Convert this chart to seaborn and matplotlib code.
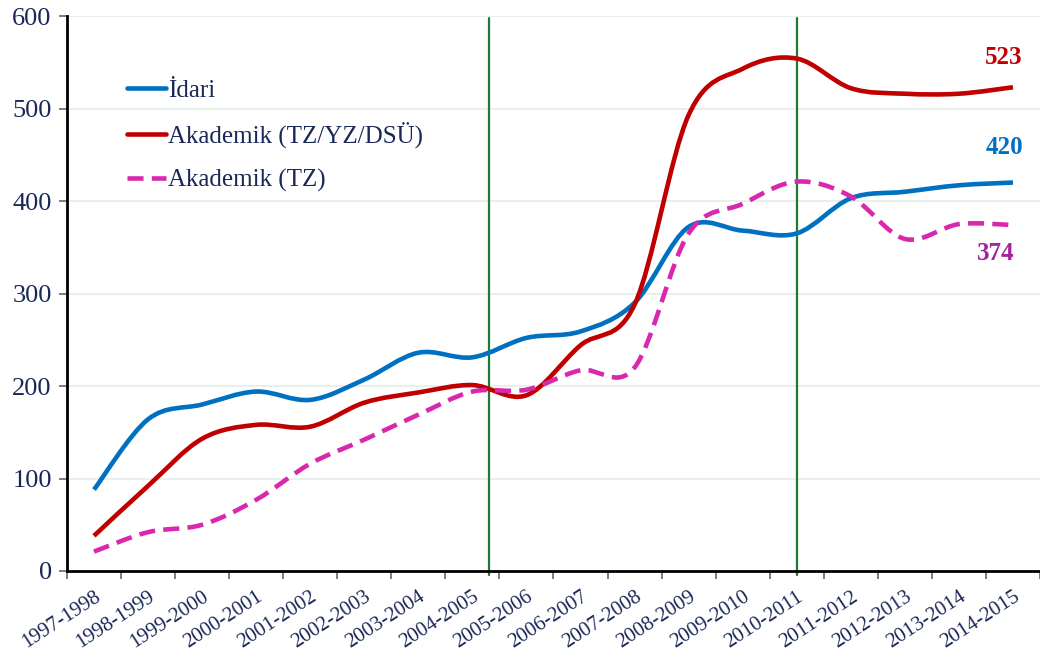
import numpy as np
import seaborn as sns
import matplotlib
matplotlib.use("Agg")
import matplotlib.pyplot as plt
from matplotlib.path import Path
from matplotlib.patches import PathPatch
from matplotlib.lines import Line2D

years = ['1997-1998', '1998-1999', '1999-2000', '2000-2001', '2001-2002', '2002-2003',
         '2003-2004', '2004-2005', '2005-2006', '2006-2007', '2007-2008', '2008-2009',
         '2009-2010', '2010-2011', '2011-2012', '2012-2013', '2013-2014', '2014-2015']
idari = [88, 164, 180, 194, 185, 207, 236, 231, 252, 259, 290, 372, 368, 365, 403, 410, 417, 420]
akademik_all = [38, 92, 143, 158, 156, 182, 193, 201, 190, 244, 288, 493, 543, 554, 522, 516, 516, 523]
akademik_tz = [21, 42, 50, 77, 116, 142, 169, 194, 196, 217, 220, 365, 397, 421, 405, 359, 375, 374]
end_labels = ['523', '420', '374']
period_marks = [7.3, 13.0]

sns.set_style("white")
plt.rcParams['font.family'] = ['Liberation Serif', 'DejaVu Serif']

navy = '#1A2858'
c_blue = '#0070C0'
c_red = '#C00000'
c_mag = '#D829AE'


def smooth_path(xs, ys):
    # Bezier curve through the points (like Excel's smoothed line)
    pts = np.column_stack([xs, ys]).astype(float)
    n = len(pts)
    verts = [pts[0]]
    codes = [Path.MOVETO]
    for i in range(n - 1):
        p0 = pts[i - 1] if i > 0 else pts[i]
        p1 = pts[i]
        p2 = pts[i + 1]
        p3 = pts[i + 2] if i + 2 < n else pts[i + 1]
        verts += [p1 + (p2 - p0) / 6, p2 - (p3 - p1) / 6, p2]
        codes += [Path.CURVE4] * 3
    return Path(verts, codes)


fig = plt.figure(figsize=(10.4, 6.57), dpi=100)
ax = fig.add_axes([0.0644, 0.1309, 0.9356, 0.8447])

x = np.arange(len(years))
series = [(idari, c_blue, '-', 'İdari'),
          (akademik_all, c_red, '-', 'Akademik (TZ/YZ/DSÜ)'),
          (akademik_tz, c_mag, (0, (3.5, 1.8)), 'Akademik (TZ)')]
handles = []
for vals, col, ls, lab in series:
    ax.add_patch(PathPatch(smooth_path(x, vals), fill=False, edgecolor=col,
                           linewidth=3.3, linestyle=ls, capstyle='butt', zorder=3))
    handles.append(Line2D([0], [0], color=col, lw=3.3, ls=ls, label=lab))

for xm in period_marks:
    ax.axvline(xm, ymin=-0.008, ymax=0.996, color='#1E7B34', lw=1.6, zorder=2, clip_on=False)

ax.set_xlim(-0.5, 17.5)
ax.set_ylim(0, 600)
ax.set_yticks(range(0, 601, 100))
ax.yaxis.grid(True, color='#E3EEE7', lw=1.2)
ax.set_axisbelow(True)

ax.set_xticks(x)
ax.set_xticklabels(years, rotation=33, ha='right', rotation_mode='anchor',
                   fontsize=15, color=navy)
ax.set_xticks(np.arange(-0.5, 18, 1), minor=True)
ax.tick_params(axis='x', which='major', length=0, pad=12)
ax.tick_params(axis='x', which='minor', length=6, width=1.2, color='#666666', direction='out')
ax.tick_params(axis='y', length=6, width=1.2, color='#666666', direction='out',
               labelsize=19, labelcolor=navy, pad=5)
ax.tick_params(bottom=True, left=True, which='both')

sns.despine(ax=ax, top=True, right=True)
for s in ['left', 'bottom']:
    ax.spines[s].set_color('black')
    ax.spines[s].set_linewidth(2)

leg = ax.legend(handles=handles, loc='upper left', bbox_to_anchor=(0.039, 0.927),
                frameon=False, fontsize=18, handlelength=1.55, handletextpad=0.08,
                labelspacing=0.82, labelcolor=navy)

ax.text(16.82, 555, end_labels[0], color=c_red, fontsize=18, fontweight='bold',
        ha='center', va='center')
ax.text(16.85, 458, end_labels[1], color=c_blue, fontsize=18, fontweight='bold',
        ha='center', va='center')
ax.text(16.68, 343, end_labels[2], color='#A3229E', fontsize=18, fontweight='bold',
        ha='center', va='center')

fig.savefig('out.png', dpi=100)
